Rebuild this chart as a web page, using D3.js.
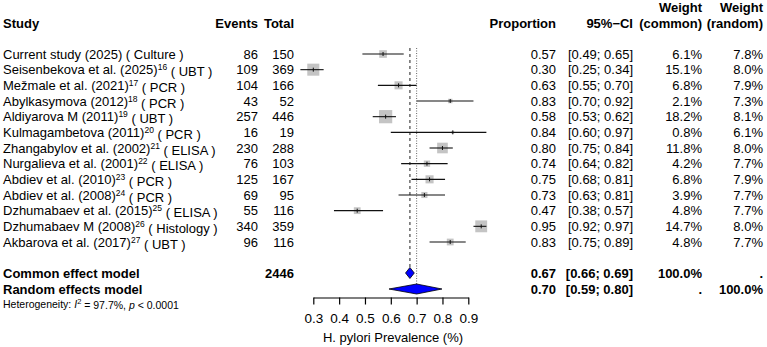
<!DOCTYPE html>
<html>
<head>
<meta charset="utf-8">
<script src="https://cdn.jsdelivr.net/npm/d3@7"></script>
<style>
  body { margin: 0; background: #fff; }
  svg text { font-family: "Liberation Sans", Arial, Helvetica, sans-serif; fill: #000; }
  .hdr { font-weight: bold; }
  .bold { font-weight: bold; }
</style>
</head>
<body>
<div id="chart"></div>
<script>
// study rows
let studies = ["Current study (2025)", "Seisenbekova et al. (2025)", "Mežmale et al. (2021)", "Abylkasymova (2012)",
    "Aldiyarova M (2011)", "Kulmagambetova (2011)", "Zhangabylov et al. (2002)", "Nurgalieva et al. (2001)",
    "Abdiev et al. (2010)", "Abdiev et al. (2008)", "Dzhumabaev et al. (2015)", "Dzhumabaev M (2008)", "Akbarova et al. (2017)"];
let refs = ["", "16", "17", "18", "19", "20", "21", "22", "23", "24", "25", "26", "27"];
let methods = ["Culture", "UBT", "PCR", "PCR", "UBT", "PCR", "ELISA", "ELISA", "PCR", "PCR", "ELISA", "Histology", "UBT"];
let events = [86, 109, 104, 43, 257, 16, 230, 76, 125, 69, 55, 340, 96];
let totals = [150, 369, 166, 52, 446, 19, 288, 103, 167, 95, 116, 359, 116];
let props = [0.57, 0.30, 0.63, 0.83, 0.58, 0.84, 0.80, 0.74, 0.75, 0.73, 0.47, 0.95, 0.83];
let lower = [0.49, 0.25, 0.55, 0.70, 0.53, 0.60, 0.75, 0.64, 0.68, 0.63, 0.38, 0.92, 0.75];
let upper = [0.65, 0.34, 0.70, 0.92, 0.62, 0.97, 0.84, 0.82, 0.81, 0.81, 0.57, 0.97, 0.89];
let wCommon = [6.1, 15.1, 6.8, 2.1, 18.2, 0.8, 11.8, 4.2, 6.8, 3.9, 4.8, 14.7, 4.8];
let wRandom = [7.8, 8.0, 7.9, 7.3, 8.1, 6.1, 8.0, 7.7, 7.9, 7.7, 7.7, 8.0, 7.7];

// pooled models
let models = ["Common effect model", "Random effects model"];
let modelEst = [0.674, 0.700];
let modelLow = [0.657, 0.593];
let modelUp = [0.691, 0.798];
let modelWc = ["100.0%", "."];
let modelWr = [".", "100.0%"];
let totalN = 2446;

let ticks = [0.3, 0.4, 0.5, 0.6, 0.7, 0.8, 0.9];

const W = 767, H = 347;
const svg = d3.select("#chart").append("svg").attr("width", W).attr("height", H);

const x = d3.scaleLinear().domain([0.3, 0.9]).range([313.3, 468.3]);
const y = d3.scaleLinear().domain([0, studies.length - 1]).range([54, 242]);
const yModel = [273, 289];

const col = { study: 3, events: 258, total: 294, prop: 556, ci: 633, wc: 702, wr: 763 };
const fs = 13;
const fmt = d3.format(".2f");

// headers
function txt(xx, yy, s, anchor, cls) {
    return svg.append("text").attr("x", xx).attr("y", yy).attr("dy", "0.35em")
        .attr("text-anchor", anchor).attr("font-size", fs).attr("class", cls || null).text(s);
}
txt(col.study, 23, "Study", "start", "hdr");
txt(col.events, 23, "Events", "end", "hdr");
txt(col.total, 23, "Total", "end", "hdr");
txt(col.prop, 23, "Proportion", "end", "hdr");
txt(col.ci, 23, "95%\u2212CI", "end", "hdr");
txt(col.wc, 7, "Weight", "end", "hdr");
txt(col.wc, 23, "(common)", "end", "hdr");
txt(col.wr, 7, "Weight", "end", "hdr");
txt(col.wr, 23, "(random)", "end", "hdr");

// reference lines
svg.append("line").attr("x1", x(modelEst[0])).attr("x2", x(modelEst[0]))
    .attr("y1", 48).attr("y2", yModel[0] - 5.5)
    .attr("stroke", "#444").attr("stroke-width", 1.2).attr("stroke-dasharray", "3,3");
svg.append("line").attr("x1", x(modelEst[1])).attr("x2", x(modelEst[1]))
    .attr("y1", 48).attr("y2", yModel[1] - 5)
    .attr("stroke", "#666").attr("stroke-width", 1).attr("stroke-dasharray", "1,1.5");

// study rows
const rows = svg.append("g").selectAll("g").data(studies).enter().append("g");

rows.each(function (d, i) {
    const g = d3.select(this);
    const t = g.append("text").attr("x", col.study).attr("y", y(i)).attr("dy", "0.35em").attr("font-size", fs);
    t.append("tspan").text(d);
    if (refs[i]) t.append("tspan").attr("font-size", 8.5).attr("dy", "-0.45em").text(refs[i]);
    t.append("tspan").attr("dy", refs[i] ? "0.45em" : null).text(" ( " + methods[i] + " )");

    g.append("text").attr("x", col.events).attr("y", y(i)).attr("dy", "0.35em").attr("text-anchor", "end").attr("font-size", fs).text(events[i]);
    g.append("text").attr("x", col.total).attr("y", y(i)).attr("dy", "0.35em").attr("text-anchor", "end").attr("font-size", fs).text(totals[i]);
    g.append("text").attr("x", col.prop).attr("y", y(i)).attr("dy", "0.35em").attr("text-anchor", "end").attr("font-size", fs).text(fmt(props[i]));
    g.append("text").attr("x", col.ci).attr("y", y(i)).attr("dy", "0.35em").attr("text-anchor", "end").attr("font-size", fs)
        .text("[" + fmt(lower[i]) + "; " + fmt(upper[i]) + "]");
    g.append("text").attr("x", col.wc).attr("y", y(i)).attr("dy", "0.35em").attr("text-anchor", "end").attr("font-size", fs).text(wCommon[i].toFixed(1) + "%");
    g.append("text").attr("x", col.wr).attr("y", y(i)).attr("dy", "0.35em").attr("text-anchor", "end").attr("font-size", fs).text(wRandom[i].toFixed(1) + "%");

    // square sized by common weight
    const s = 3.1 * Math.sqrt(wCommon[i]);
    g.append("rect").attr("x", x(props[i]) - s / 2).attr("y", y(i) - s / 2)
        .attr("width", s).attr("height", s).attr("fill", "#c4c4c4");
    g.append("line").attr("x1", x(lower[i])).attr("x2", x(upper[i]))
        .attr("y1", y(i)).attr("y2", y(i)).attr("stroke", "#111").attr("stroke-width", 1.1);
    g.append("line").attr("x1", x(props[i])).attr("x2", x(props[i]))
        .attr("y1", y(i) - 2).attr("y2", y(i) + 2).attr("stroke", "#111").attr("stroke-width", 1);
});

// pooled rows
models.forEach(function (m, k) {
    const yy = yModel[k];
    txt(col.study, yy, m, "start", "bold");
    if (k === 0) txt(col.total, yy, totalN, "end", "bold");
    txt(col.prop, yy, fmt(modelEst[k]), "end", "bold");
    txt(col.ci, yy, "[" + fmt(modelLow[k]) + "; " + fmt(modelUp[k]) + "]", "end", "bold");
    txt(col.wc, yy, modelWc[k], "end", "bold");
    txt(col.wr, yy, modelWr[k], "end", "bold");
    const h = k === 0 ? 5.5 : 5;
    svg.append("path")
        .attr("d", "M" + x(modelLow[k]) + "," + yy + "L" + x(modelEst[k]) + "," + (yy - h) +
            "L" + x(modelUp[k]) + "," + yy + "L" + x(modelEst[k]) + "," + (yy + h) + "Z")
        .attr("fill", "#0000ff").attr("stroke", "#000").attr("stroke-width", 0.8);
});

// heterogeneity
const het = svg.append("text").attr("x", col.study).attr("y", 304).attr("dy", "0.35em").attr("font-size", 10.5);
het.append("tspan").text("Heterogeneity: ");
het.append("tspan").attr("font-style", "italic").text("I");
het.append("tspan").attr("font-size", 7.5).attr("dy", "-0.5em").text("2");
het.append("tspan").attr("dy", "0.5em").text(" = 97.7%, ");
het.append("tspan").attr("font-style", "italic").text("p");
het.append("tspan").text(" < 0.0001");

// axis
const axis = svg.append("g").attr("transform", "translate(0,297.5)")
    .call(d3.axisBottom(x).tickValues(ticks).tickFormat(d3.format(".1f")).tickSize(7).tickSizeOuter(0).tickPadding(9));
axis.select(".domain").attr("stroke", "#000").attr("stroke-width", 1.2);
axis.selectAll(".tick line").attr("stroke", "#000").attr("stroke-width", 1.2);
axis.selectAll(".tick text").attr("font-size", 13.5).attr("font-family", "Liberation Sans, Arial, sans-serif").attr("fill", "#000");

svg.append("text").attr("x", 393).attr("y", 337).attr("dy", "0.35em").attr("text-anchor", "middle")
    .attr("font-size", 13).text("H. pylori Prevalence (%)");
</script>
</body>
</html>
